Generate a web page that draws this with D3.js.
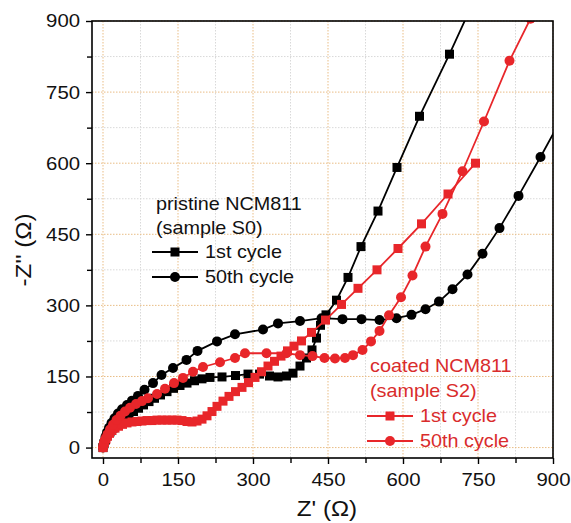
<!DOCTYPE html>
<html><head><meta charset="utf-8">
<script src="https://cdn.jsdelivr.net/npm/d3@7"></script>
<style>body{margin:0;background:#fff} text{font-family:"Liberation Sans",Arial,sans-serif}</style>
</head><body><svg id="c" width="571" height="523"></svg>
<script>
const xTicks=[0,150,300,450,600,750,900];
const yTicks=[0,150,300,450,600,750,900];
const minorTicks=[75,225,375,525,675,825];

// pristine NCM811 (S0), 1st cycle
const s0Cycle1=[[0,0],[2,8],[5,16],[9,25],[14,33],[20,41],[27,49],[35,56],[43,62],[52,69],[61,76],[71,83],[81,90],[92,97],[103,104],[115,111],[128,118],[141,125],[154,131],[168,136],[183,141],[198,145],[214,148],[238,149],[265,152],[290,155],[313,155],[333,151],[350,149],[367,151],[380,157],[394,172],[407,189],[418,206],[427,231],[435,258],[446,280],[467,311],[490,359],[516,424],[550,499],[588,591],[633,699],[693,830],[745,950]];
// pristine NCM811 (S0), 50th cycle
const s0Cycle50=[[0,0],[1,6],[3,14],[5,23],[8,32],[12,42],[17,52],[23,62],[30,72],[38,81],[48,90],[58,99],[70,109],[83,122],[100,136],[117,153],[140,168],[167,185],[189,204],[228,224],[264,239],[320,249],[350,262],[394,267],[437,273],[479,271],[517,271],[553,269],[587,273],[617,280],[645,292],[672,308],[699,334],[729,365],[759,409],[793,463],[831,531],[875,613],[920,700]];
// coated NCM811 (S2), 1st cycle
const s2Cycle1=[[0,0],[1,5],[3,11],[6,18],[9,24],[13,30],[18,36],[24,41],[31,45],[39,49],[48,52],[58,54],[68,55],[78,56],[88,57],[98,57],[108,58],[118,58],[128,58],[138,58],[148,58],[158,57],[168,55],[178,54],[188,56],[198,60],[208,67],[218,76],[228,87],[240,98],[252,108],[265,118],[278,127],[291,137],[304,148],[317,160],[330,172],[343,182],[356,193],[369,204],[382,214],[397,225],[417,243],[445,269],[477,302],[510,336],[548,375],[590,420],[637,472],[690,535],[745,600]];
// coated NCM811 (S2), 50th cycle
const s2Cycle50=[[0,0],[2,8],[5,18],[9,28],[14,38],[20,48],[27,58],[35,67],[44,76],[54,84],[66,92],[78,98],[90,104],[108,113],[124,124],[142,136],[160,147],[180,160],[200,170],[234,180],[264,189],[284,199],[327,199],[367,199],[394,195],[419,193],[443,189],[464,188],[484,189],[500,195],[519,206],[536,224],[553,246],[572,279],[596,317],[619,363],[645,424],[679,493],[719,583],[762,688],[813,816],[855,905]];

const legendS0=["pristine NCM811","(sample S0)","1st cycle","50th cycle"];
const legendS2=["coated NCM811","(sample S2)","1st cycle","50th cycle"];

const RED="#e8262a", RED_TXT="#d92c2c";
const svg=d3.select("#c");
const x=d3.scaleLinear().domain([-22,900]).range([92,553]);
const y=d3.scaleLinear().domain([-22,900]).range([458,21]);
const SX=1.1;

// grid
const g=svg.append("g");
minorTicks.forEach(v=>{
  g.append("line").attr("x1",x(v)).attr("x2",x(v)).attr("y1",y(900)).attr("y2",458).attr("stroke","#d9d9d9").attr("stroke-width",1).attr("stroke-dasharray","1.5,1.5");
  g.append("line").attr("y1",y(v)).attr("y2",y(v)).attr("x1",92).attr("x2",553).attr("stroke","#d9d9d9").attr("stroke-width",1).attr("stroke-dasharray","1.5,1.5");
});
xTicks.forEach(v=>{
  g.append("line").attr("x1",x(v)).attr("x2",x(v)).attr("y1",y(900)).attr("y2",458).attr("stroke","#e9bd85").attr("stroke-width",1).attr("stroke-dasharray","1.5,1.5");
});
yTicks.forEach(v=>{
  g.append("line").attr("y1",y(v)).attr("y2",y(v)).attr("x1",92).attr("x2",553).attr("stroke","#e9bd85").attr("stroke-width",1).attr("stroke-dasharray","1.5,1.5");
});

// clip
svg.append("clipPath").attr("id","clip").append("rect").attr("x",92).attr("y",21).attr("width",461).attr("height",437);
const plot=svg.append("g").attr("clip-path","url(#clip)");
const line=d3.line().x(d=>x(d[0])).y(d=>y(d[1]));
function series(data,color,shape){
  plot.append("path").datum(data).attr("d",line).attr("fill","none").attr("stroke",color).attr("stroke-width",1.8);
  if(shape==="sq"){
    plot.selectAll(null).data(data).enter().append("rect").attr("x",d=>x(d[0])-4.5).attr("y",d=>y(d[1])-4.5).attr("width",9).attr("height",9).attr("fill",color);
  } else {
    plot.selectAll(null).data(data).enter().append("circle").attr("cx",d=>x(d[0])).attr("cy",d=>y(d[1])).attr("r",5).attr("fill",color);
  }
}
series(s0Cycle1,"#000","sq");
series(s0Cycle50,"#000","ci");
series(s2Cycle1,RED,"sq");
series(s2Cycle50,RED,"ci");

// axes
const xa=svg.append("g").attr("transform","translate(0,458)").call(d3.axisBottom(x).tickValues(xTicks).tickSize(6).tickPadding(9));
svg.append("g").attr("transform","translate(0,458)").call(d3.axisBottom(x).tickValues(minorTicks).tickSize(5).tickFormat(""));
const ya=svg.append("g").attr("transform","translate(92,0)").call(d3.axisLeft(y).tickValues(yTicks).tickSize(6).tickPadding(6));
svg.append("g").attr("transform","translate(92,0)").call(d3.axisLeft(y).tickValues(minorTicks).tickSize(5).tickFormat(""));
svg.selectAll(".domain").remove();
svg.selectAll(".tick line").attr("stroke","#000").attr("stroke-width",1.4);
xa.selectAll("text").attr("font-size",18.5).attr("fill","#111").attr("font-family","Liberation Sans, Arial, sans-serif").attr("transform",`scale(${SX},1)`);
ya.selectAll("text").attr("font-size",18.5).attr("fill","#111").attr("font-family","Liberation Sans, Arial, sans-serif").attr("x",-12/SX).attr("transform",`scale(${SX},1)`);

// frame
svg.append("rect").attr("x",92).attr("y",21).attr("width",461).attr("height",437).attr("fill","none").attr("stroke","#000").attr("stroke-width",1.6);

// titles
svg.append("text").attr("transform",`translate(327,516) scale(${SX},1)`).attr("text-anchor","middle").attr("font-size",22).attr("fill","#111").text("Z' (\u03A9)");
svg.append("text").attr("transform",`translate(31,250) rotate(-90) scale(${SX},1)`).attr("text-anchor","middle").attr("font-size",22).attr("fill","#111").text("-Z'' (\u03A9)");

// legends
function legend(items,x0,ys,color,tcolor,lx1,lx2,tx){
  svg.append("text").attr("transform",`translate(${x0},${ys[0]}) scale(${SX},1)`).attr("font-size",18).attr("fill",tcolor).text(items[0]);
  svg.append("text").attr("transform",`translate(${x0},${ys[1]}) scale(${SX},1)`).attr("font-size",18).attr("fill",tcolor).text(items[1]);
  [2,3].forEach((k,i)=>{
    const ly=ys[k]-6;
    svg.append("line").attr("x1",lx1).attr("x2",lx2).attr("y1",ly).attr("y2",ly).attr("stroke",color).attr("stroke-width",1.8);
    const mx=(lx1+lx2)/2;
    if(i===0) svg.append("rect").attr("x",mx-4.5).attr("y",ly-4.5).attr("width",9).attr("height",9).attr("fill",color);
    else svg.append("circle").attr("cx",mx).attr("cy",ly).attr("r",5).attr("fill",color);
    svg.append("text").attr("transform",`translate(${tx},${ys[k]}) scale(${SX},1)`).attr("font-size",18).attr("fill",tcolor).text(items[k]);
  });
}
legend(legendS0,156,[210,234,258,283],"#000","#111",152,198,205);
legend(legendS2,370,[372,397,422,447],RED,RED_TXT,367,413,420);
</script></body></html>
